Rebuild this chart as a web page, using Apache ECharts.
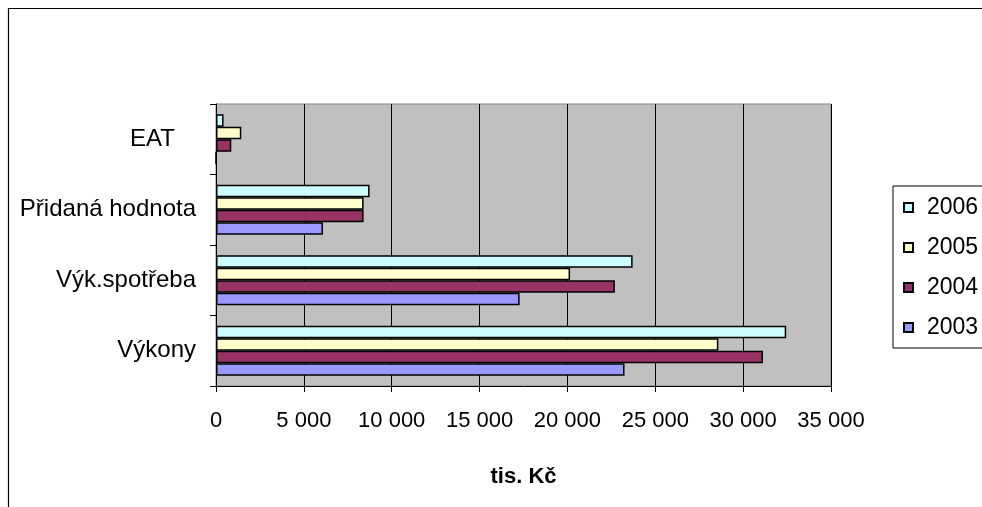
<!DOCTYPE html>
<html>
<head>
<meta charset="utf-8">
<script src="https://cdn.jsdelivr.net/npm/echarts@6/dist/echarts.min.js"></script>
<style>
html,body{margin:0;padding:0;background:#fff;}
#c{width:982px;height:507px;}
</style>
</head>
<body>
<div id="c"></div>
<script>
const categories = ['Výkony', 'Výk.spotřeba', 'Přidaná hodnota', 'EAT'];
const years = ['2006', '2005', '2004', '2003'];
const v2003 = [23250, 17280, 6090, 0];
const v2004 = [31130, 22700, 8400, 870];
const v2005 = [28590, 20150, 8400, 1440];
const v2006 = [32450, 23710, 8740, 430];
const xTicks = [0, 5000, 10000, 15000, 20000, 25000, 30000, 35000];
const legendOrder = ['2006', '2005', '2004', '2003'];
const colors = {'2003': '#9999FF', '2004': '#993366', '2005': '#FFFFCC', '2006': '#CCFFFF'};
const seriesValues = {'2003': v2003, '2004': v2004, '2005': v2005, '2006': v2006};

const FONT = 'Liberation Sans, Arial, sans-serif';
const chart = echarts.init(document.getElementById('c'), null, {renderer: 'canvas'});

function fmt(v) {
  return String(v).replace(/\B(?=(\d{3})+(?!\d))/g, ' ');
}

chart.setOption({
  animation: false,
  backgroundColor: '#fff',
  textStyle: {fontFamily: FONT, color: '#000'},
  graphic: [
    {type: 'rect', shape: {x: 8.5, y: 8.5, width: 1100, height: 700}, style: {fill: null, stroke: '#000', lineWidth: 1.2}, z: -1}
  ],
  grid: {
    left: 216, top: 104, width: 615, height: 282,
    show: true, backgroundColor: '#C0C0C0', borderColor: '#808080', borderWidth: 1
  },
  legend: {
    data: legendOrder,
    orient: 'vertical',
    left: 893, top: 186,
    itemWidth: 9, itemHeight: 9, itemGap: 17,
    icon: 'rect',
    padding: [10, 40, 9, 10],
    borderColor: '#000', borderWidth: 1,
    textStyle: {fontFamily: FONT, fontSize: 23, color: '#000', padding: [0, 0, 0, 9]}
  },
  xAxis: {
    type: 'value', min: xTicks[0], max: xTicks[xTicks.length - 1], interval: 5000,
    axisLine: {show: true, lineStyle: {color: '#000', width: 1}},
    axisTick: {show: true, length: 6, lineStyle: {color: '#000'}},
    axisLabel: {formatter: fmt, fontSize: 22, color: '#000', margin: 24, fontFamily: FONT},
    splitLine: {show: true, lineStyle: {color: '#000', width: 1}},
    name: 'tis. Kč', nameLocation: 'middle', nameGap: 80,
    nameTextStyle: {fontSize: 22, fontWeight: 'bold', color: '#000', fontFamily: FONT}
  },
  yAxis: {
    type: 'category', data: categories,
    axisLine: {show: true, lineStyle: {color: '#000', width: 1}},
    axisTick: {show: true, length: 6, lineStyle: {color: '#000'}},
    axisLabel: {
      fontSize: 24, color: '#000', margin: 20, fontFamily: FONT,
      formatter: function (v) { return v === 'EAT' ? '{e|' + v + '}' : v; },
      rich: {e: {fontSize: 24, fontFamily: FONT, padding: [0, 21, 0, 0]}}
    },
    splitLine: {show: false}
  },
  series: years.map(y => ({
    name: y, type: 'bar', data: seriesValues[y],
    barGap: '0%', barCategoryGap: '29%',
    itemStyle: {color: colors[y], borderColor: '#000', borderWidth: 1.5}
  }))
});
</script>
</body>
</html>
